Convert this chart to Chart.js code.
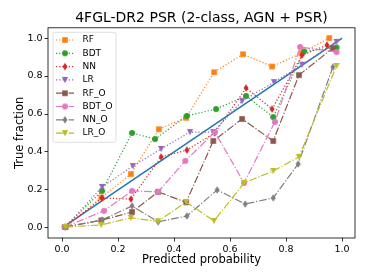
<!DOCTYPE html>
<html>
<head>
<meta charset="utf-8">
<script src="https://cdn.jsdelivr.net/npm/chart.js@4.4.1/dist/chart.umd.min.js"></script>
<style>
  html, body { margin: 0; padding: 0; background: #fff; }
  canvas { display: block; }
</style>
</head>
<body>
<canvas id="chart" width="374" height="280" style="width:374px;height:280px"></canvas>
<script>
const seriesNames = ['RF', 'BDT', 'NN', 'LR', 'RF_O', 'BDT_O', 'NN_O', 'LR_O']

const rfX = [0.012, 0.14, 0.246, 0.346, 0.443, 0.543, 0.646, 0.75, 0.855, 0.954]
const rfY = [0.005, 0.16, 0.284, 0.52, 0.58, 0.82, 0.915, 0.85, 0.92, 1.0]
const bdtX = [0.01, 0.143, 0.25, 0.332, 0.446, 0.55, 0.657, 0.754, 0.864, 0.98]
const bdtY = [0.005, 0.195, 0.5, 0.468, 0.59, 0.626, 0.695, 0.584, 0.93, 0.95]
const nnX = [0.012, 0.143, 0.246, 0.354, 0.446, 0.545, 0.657, 0.75, 0.857, 0.946]
const nnY = [0.005, 0.158, 0.152, 0.374, 0.41, 0.5, 0.737, 0.626, 0.91, 0.963]
const lrX = [0.012, 0.143, 0.253, 0.354, 0.457, 0.54, 0.643, 0.757, 0.857, 0.98]
const lrY = [0.005, 0.216, 0.326, 0.416, 0.505, 0.505, 0.668, 0.768, 0.86, 0.98]
const rfoX = [0.012, 0.14, 0.25, 0.343, 0.443, 0.54, 0.643, 0.754, 0.846, 0.967]
const rfoY = [0.005, 0.04, 0.084, 0.19, 0.135, 0.458, 0.574, 0.458, 0.805, 0.947]
const bdtoX = [0.01, 0.15, 0.25, 0.343, 0.44, 0.546, 0.65, 0.76, 0.85, 0.98]
const bdtoY = [0.005, 0.09, 0.195, 0.19, 0.353, 0.505, 0.237, 0.558, 0.953, 0.926]
const nnoX = [0.012, 0.143, 0.25, 0.343, 0.446, 0.554, 0.654, 0.754, 0.843, 0.967]
const nnoY = [0.005, 0.042, 0.116, 0.032, 0.063, 0.2, 0.126, 0.158, 0.337, 0.847]
const lroX = [0.012, 0.14, 0.246, 0.343, 0.443, 0.543, 0.65, 0.754, 0.846, 0.98]
const lroY = [0.005, 0.016, 0.053, 0.035, 0.137, 0.037, 0.237, 0.3, 0.374, 0.853]

const diagonalX = [0, 1]
const diagonalY = [0, 1]

const tickValues = [0, 0.2, 0.4, 0.6, 0.8, 1.0]
const titleText = '4FGL-DR2 PSR (2-class, AGN + PSR)'
const xLabel = 'Predicted probability'
const yLabel = 'True fraction'

const SERIES_X = [rfX, bdtX, nnX, lrX, rfoX, bdtoX, nnoX, lroX]
const SERIES_Y = [rfY, bdtY, nnY, lrY, rfoY, bdtoY, nnoY, lroY]

const FONT = 'DejaVu Sans'
const DOTTED = [1.2, 2]
const DASH_DOT = [7.7, 1.9, 1.2, 1.9]

const STYLES = [
  { color: '#ff7f0e', marker: 'square', dash: DOTTED },
  { color: '#2ca02c', marker: 'circle', dash: DOTTED },
  { color: '#d62728', marker: 'thin_diamond', dash: DOTTED },
  { color: '#9467bd', marker: 'tri_down', dash: DOTTED },
  { color: '#8c564b', marker: 'square', dash: DASH_DOT },
  { color: '#e377c2', marker: 'circle', dash: DASH_DOT },
  { color: '#7f7f7f', marker: 'thin_diamond', dash: DASH_DOT },
  { color: '#bcbd22', marker: 'tri_down', dash: DASH_DOT },
]

function markerCanvas(shape, color) {
  const c = document.createElement('canvas')
  c.width = 10
  c.height = 10
  const ctx = c.getContext('2d')
  ctx.fillStyle = color
  ctx.beginPath()
  if (shape === 'square') {
    ctx.rect(2.2, 2.2, 5.6, 5.6)
  } else if (shape === 'circle') {
    ctx.arc(5, 5, 3, 0, Math.PI * 2)
  } else if (shape === 'tri_down') {
    ctx.moveTo(1.9, 2)
    ctx.lineTo(8.1, 2)
    ctx.lineTo(5, 8.2)
    ctx.closePath()
  } else {
    ctx.moveTo(5, 1.3)
    ctx.lineTo(7.5, 5)
    ctx.lineTo(5, 8.7)
    ctx.lineTo(2.5, 5)
    ctx.closePath()
  }
  ctx.fill()
  return c
}

const markers = STYLES.map((s) => markerCanvas(s.marker, s.color))

function points(xs, ys) {
  return xs.map((x, i) => ({ x, y: ys[i] }))
}

const datasets = seriesNames.map((name, i) => ({
  label: name,
  data: points(SERIES_X[i], SERIES_Y[i]),
  borderColor: STYLES[i].color,
  backgroundColor: STYLES[i].color,
  borderWidth: 1.2,
  borderDash: STYLES[i].dash,
  pointStyle: markers[i],
  pointRadius: 3,
  pointHoverRadius: 3,
  tension: 0,
  order: seriesNames.length - i,
}))

datasets.push({
  label: 'diagonal',
  data: points(diagonalX, diagonalY),
  borderColor: '#1f77b4',
  borderWidth: 1.5,
  pointRadius: 0,
  order: 99,
})

const frame = {
  id: 'frame',
  afterDraw(chart) {
    const { ctx, chartArea: a } = chart
    ctx.save()
    ctx.strokeStyle = '#000'
    ctx.lineWidth = 0.8
    ctx.strokeRect(a.left, a.top, a.right - a.left, a.bottom - a.top)
    ctx.restore()
  },
}

const legendBox = {
  id: 'legendBox',
  afterDatasetsDraw(chart) {
    const { ctx, chartArea: a } = chart
    const x = a.left + 5
    const y = a.top + 4.5
    const w = 63
    const h = 110
    ctx.save()
    ctx.beginPath()
    ctx.roundRect(x, y, w, h, 2)
    ctx.fillStyle = 'rgba(255,255,255,0.8)'
    ctx.fill()
    ctx.strokeStyle = 'rgba(204,204,204,0.8)'
    ctx.lineWidth = 0.8
    ctx.stroke()
    ctx.font = `9px "${FONT}"`
    ctx.textBaseline = 'middle'
    ctx.fillStyle = '#000'
    seriesNames.forEach((name, i) => {
      const cy = y + 7.7 + i * 13.3
      ctx.beginPath()
      ctx.setLineDash(STYLES[i].dash)
      ctx.strokeStyle = STYLES[i].color
      ctx.lineWidth = 1.2
      ctx.moveTo(x + 3, cy)
      ctx.lineTo(x + 21, cy)
      ctx.stroke()
      ctx.setLineDash([])
      ctx.drawImage(markers[i], x + 12 - 5, cy - 5)
      ctx.fillText(name, x + 29.5, cy)
    })
    ctx.restore()
  },
}

function fixTicks(scale) {
  scale.ticks = tickValues.map((v) => ({ value: v }))
}

const tickStyle = {
  font: { family: FONT, size: 9.5 },
  color: '#000',
  padding: 2,
  callback: (v) => Number(v).toFixed(1),
}

const gridStyle = {
  drawOnChartArea: false,
  drawTicks: true,
  tickLength: 3.5,
  color: '#000',
  lineWidth: 0.8,
}

new Chart(document.getElementById('chart'), {
  type: 'line',
  data: { datasets },
  options: {
    responsive: false,
    devicePixelRatio: 1,
    animation: false,
    layout: { padding: { left: 0, right: 19, top: 0, bottom: 0 } },
    plugins: {
      legend: { display: false },
      tooltip: { enabled: false },
      title: {
        display: true,
        fullSize: false,
        text: titleText,
        color: '#000',
        font: { family: FONT, size: 14, weight: 'normal' },
        padding: { top: 10, bottom: 1 },
      },
    },
    scales: {
      x: {
        type: 'linear',
        min: -0.05,
        max: 1.046,
        afterBuildTicks: fixTicks,
        afterFit: (scale) => { scale.height = 42 },
        ticks: tickStyle,
        grid: gridStyle,
        border: { display: false },
        title: {
          display: true,
          text: xLabel,
          color: '#000',
          font: { family: FONT, size: 11.5 },
          padding: { top: 0, bottom: 13 },
        },
      },
      y: {
        type: 'linear',
        min: -0.053,
        max: 1.054,
        afterBuildTicks: fixTicks,
        afterFit: (scale) => { scale.width = 48 },
        ticks: tickStyle,
        grid: gridStyle,
        border: { display: false },
        title: {
          display: true,
          text: yLabel,
          color: '#000',
          font: { family: FONT, size: 11.5 },
          padding: { top: 13, bottom: 0 },
        },
      },
    },
  },
  plugins: [frame, legendBox],
})
</script>
</body>
</html>
